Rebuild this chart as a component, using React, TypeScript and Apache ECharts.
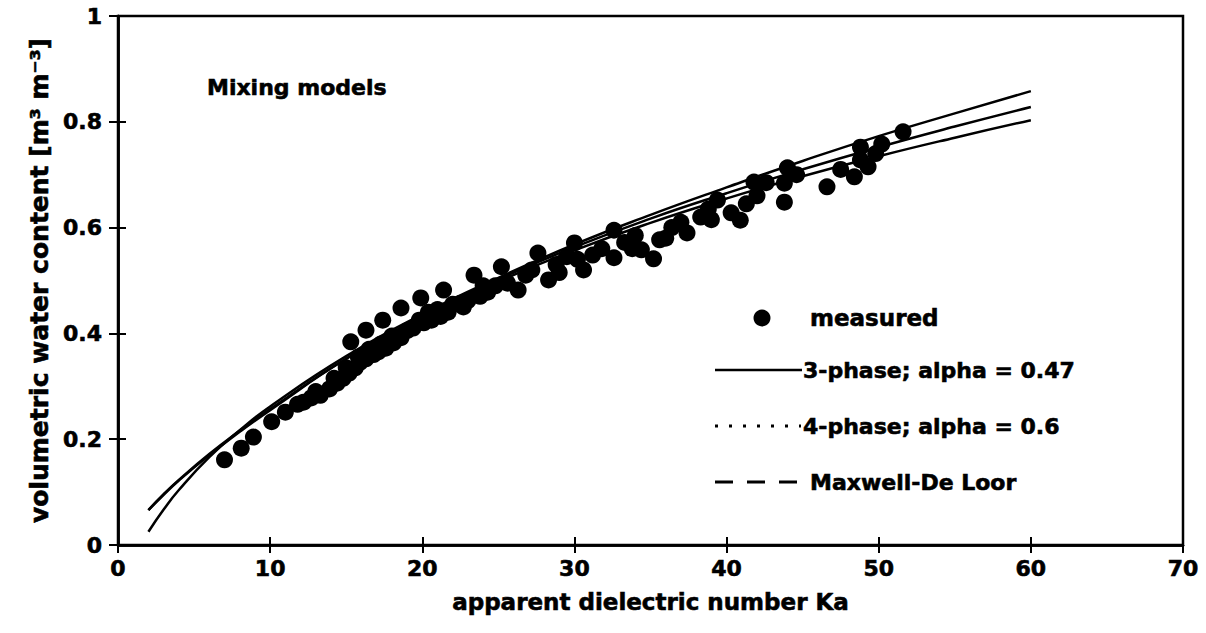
import React, { useEffect, useRef } from "react";
import * as echarts from "echarts";

// Measured soil samples: apparent dielectric number Ka vs volumetric water content
const measuredKa = [
  7.0, 8.1, 8.9, 10.1, 11.0, 11.8, 12.2, 12.7, 13.0, 13.3, 13.9, 14.2, 14.4, 14.8, 15.0,
  15.2, 15.6, 15.8, 15.9, 16.3, 16.5, 16.8, 17.1, 17.3, 17.6, 18.0, 18.1, 18.6, 19.0,
  19.4, 19.8, 20.1, 20.4, 20.6, 21.0, 21.2, 21.7, 22.0, 22.5, 23.0,
  15.3, 16.3, 17.4, 18.6, 19.9, 21.4, 23.4, 22.7, 23.8, 24.0, 24.3, 24.8, 25.2, 25.6,
  26.3, 26.8, 27.2, 27.6, 28.3, 28.8, 29.0, 29.5, 30.0, 30.2, 30.6, 31.2, 31.8, 32.6,
  32.6, 33.3, 33.8, 34.0, 34.4, 35.2, 35.6, 36.0, 36.4, 37.0, 37.4, 38.3, 38.8, 39.0,
  39.4, 40.3, 40.9, 41.3, 41.8, 42.0, 42.6, 43.8, 43.8, 44.0, 44.6, 46.6, 47.5, 48.4,
  48.8, 48.8, 49.3, 49.8, 50.2, 51.6,
];
const measuredTheta = [
  0.161, 0.183, 0.204, 0.233, 0.251, 0.266, 0.27, 0.278, 0.29, 0.283, 0.295, 0.315, 0.306, 0.315, 0.335,
  0.325, 0.335, 0.355, 0.345, 0.352, 0.37, 0.36, 0.365, 0.38, 0.372, 0.395, 0.382, 0.392, 0.405,
  0.41, 0.425, 0.42, 0.44, 0.425, 0.445, 0.432, 0.44, 0.455, 0.457, 0.462,
  0.384, 0.406, 0.425, 0.448, 0.467, 0.482, 0.51, 0.45, 0.47, 0.49, 0.478, 0.49, 0.526, 0.495,
  0.482, 0.51, 0.52, 0.552, 0.501, 0.53, 0.515, 0.545, 0.571, 0.54, 0.52, 0.548, 0.56, 0.595,
  0.543, 0.572, 0.56, 0.585, 0.558, 0.541, 0.577, 0.58, 0.6, 0.61, 0.59, 0.62, 0.635, 0.615,
  0.652, 0.628, 0.614, 0.645, 0.686, 0.66, 0.685, 0.684, 0.648, 0.713, 0.7, 0.677, 0.71, 0.696,
  0.728, 0.752, 0.715, 0.74, 0.758, 0.781,
];

// Model curves, sampled along Ka
const modelKa = [2, 3, 4, 6, 8, 10, 15, 20, 25, 30, 35, 40, 45, 50, 55, 60];
const threePhase = [0.025, 0.067, 0.104, 0.166, 0.217, 0.262, 0.357, 0.436, 0.505, 0.568, 0.624, 0.676, 0.726, 0.773, 0.816, 0.858];
const fourPhase = [0.066, 0.095, 0.122, 0.17, 0.214, 0.255, 0.352, 0.432, 0.502, 0.563, 0.617, 0.665, 0.71, 0.752, 0.791, 0.828];
const maxwellDeLoor = [0.066, 0.096, 0.123, 0.172, 0.216, 0.257, 0.352, 0.43, 0.498, 0.557, 0.609, 0.655, 0.697, 0.735, 0.77, 0.803];

const legendLabels = ["measured", "3-phase; alpha = 0.47", "4-phase; alpha = 0.6", "Maxwell-De Loor"];

const FONT = "DejaVu Sans";

export default function App() {
  const ref = useRef<HTMLDivElement>(null);

  useEffect(() => {
    if (!ref.current) return;
    const chart = echarts.init(ref.current, undefined, { renderer: "svg" });

    const pair = (xs: number[], ys: number[]) => xs.map((x, i) => [x, ys[i]]);
    const curveStyle = { color: "#000", width: 2.5, type: "solid" as const };
    // heavy black lettering: bold face plus a thin outline
    const labelText = {
      fontFamily: FONT, fontWeight: "bold" as const, color: "#000",
      textBorderColor: "#000", textBorderWidth: 0.6,
    };
    const keyText = (text: string, size: number) => ({
      text, fill: "#000", font: `bold ${size}px "${FONT}"`, verticalAlign: "middle" as const,
      stroke: "#000", lineWidth: 0.6,
    });

    const xBase = { type: "value" as const, min: 0, max: 70, interval: 10 };
    const yBase = { type: "value" as const, min: 0, max: 1, interval: 0.2 };
    const plotRect = { left: 118, right: 23, top: 16, bottom: 88 };
    const tickStyle = { color: "#000", width: 2 };

    chart.setOption({
      animation: false,
      backgroundColor: "#fff",
      grid: [
        { ...plotRect, show: true, borderColor: "#000", borderWidth: 2.5, backgroundColor: "transparent" },
        // twin grid carrying the inward half of each tick mark
        { ...plotRect, show: false },
      ],
      xAxis: [
        {
          ...xBase,
          gridIndex: 0,
          name: "apparent dielectric number Ka",
          nameLocation: "middle",
          nameGap: 45,
          nameTextStyle: { ...labelText, fontSize: 23 },
          axisLine: { show: true, lineStyle: { color: "#000", width: 2.5 } },
          axisTick: { show: true, length: 8, lineStyle: tickStyle },
          axisLabel: { ...labelText, fontSize: 22, margin: 12 },
          splitLine: { show: false },
        },
        {
          ...xBase,
          gridIndex: 1,
          position: "bottom",
          axisLine: { show: true, lineStyle: { color: "#000", width: 2.5 } },
          axisTick: { show: true, inside: true, length: 8, lineStyle: tickStyle },
          axisLabel: { show: false },
          splitLine: { show: false },
        },
      ],
      yAxis: [
        {
          ...yBase,
          gridIndex: 0,
          name: "volumetric water content [m³ m⁻³]",
          nameLocation: "middle",
          nameGap: 64,
          nameTextStyle: { ...labelText, fontSize: 25 },
          axisLine: { show: true, lineStyle: { color: "#000", width: 2.5 } },
          axisTick: { show: true, length: 9, lineStyle: tickStyle },
          axisLabel: {
            ...labelText, fontSize: 22, margin: 16,
            formatter: (v: number) => String(+v.toFixed(1)),
          },
          splitLine: { show: false },
        },
        {
          ...yBase,
          gridIndex: 1,
          position: "left",
          axisLine: { show: true, lineStyle: { color: "#000", width: 2.5 } },
          axisTick: { show: true, inside: true, length: 8, lineStyle: tickStyle },
          axisLabel: { show: false },
          splitLine: { show: false },
        },
      ],
      series: [
        {
          name: legendLabels[1], type: "line", smooth: true, showSymbol: false,
          data: pair(modelKa, threePhase), lineStyle: curveStyle, z: 3,
        },
        {
          name: legendLabels[2], type: "line", smooth: true, showSymbol: false,
          data: pair(modelKa, fourPhase), lineStyle: curveStyle, z: 3,
        },
        {
          name: legendLabels[3], type: "line", smooth: true, showSymbol: false,
          data: pair(modelKa, maxwellDeLoor), lineStyle: curveStyle, z: 3,
        },
        {
          name: legendLabels[0], type: "scatter", symbol: "circle", symbolSize: 17,
          itemStyle: { color: "#000", opacity: 1 }, data: pair(measuredKa, measuredTheta), z: 4,
        },
      ],
      graphic: [
        { type: "text", x: 207, y: 87, style: keyText("Mixing models", 22) },
        // key
        { type: "circle", shape: { cx: 762, cy: 318, r: 8.5 }, style: { fill: "#000" } },
        { type: "text", x: 810, y: 318, style: keyText(legendLabels[0], 23) },
        {
          type: "line", shape: { x1: 715, y1: 370, x2: 802, y2: 370 },
          style: { stroke: "#000", lineWidth: 2.5 },
        },
        { type: "text", x: 803, y: 370, style: keyText(legendLabels[1], 22) },
        {
          type: "line", shape: { x1: 715, y1: 426, x2: 801, y2: 426 },
          style: { stroke: "#000", lineWidth: 3, lineDash: [3, 11] },
        },
        { type: "text", x: 803, y: 426, style: keyText(legendLabels[2], 22) },
        {
          type: "line", shape: { x1: 715, y1: 482, x2: 797, y2: 482 },
          style: { stroke: "#000", lineWidth: 3, lineDash: [18, 14] },
        },
        { type: "text", x: 810, y: 482, style: keyText(legendLabels[3], 22) },
      ],
    });

    return () => chart.dispose();
  }, []);

  return <div ref={ref} style={{ width: 1206, height: 633, position: "absolute", left: 0, top: 0 }} />;
}
